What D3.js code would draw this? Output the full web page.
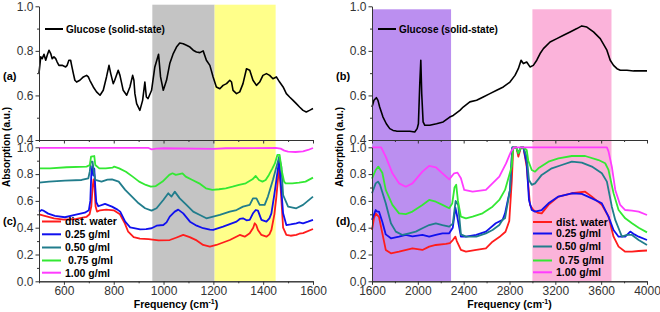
<!DOCTYPE html>
<html>
<head>
<meta charset="utf-8">
<script src="https://cdn.jsdelivr.net/npm/d3@7"></script>
<style>
  body { margin: 0; background: #fff; }
  text { font-family: "Liberation Sans", Arial, sans-serif; }
</style>
</head>
<body>
<div id="chart"></div>
<script>
// glucose solid-state spectra [frequency, absorption]
let glucoseLow = [[500,0.70],[507,0.773],[513,0.765],[520,0.785],[527,0.758],[533,0.780],[540,0.803],[547,0.788],[553,0.765],[560,0.773],[567,0.765],[573,0.750],[580,0.735],[593,0.735],[607,0.728],[613,0.735],[620,0.758],[627,0.758],[631,0.735],[638,0.698],[644,0.668],[651,0.660],[664,0.668],[678,0.683],[691,0.690],[698,0.683],[704,0.668],[718,0.638],[731,0.616],[745,0.601],[758,0.623],[771,0.683],[781,0.735],[788,0.698],[798,0.653],[804,0.668],[818,0.713],[825,0.690],[838,0.623],[852,0.601],[865,0.638],[876,0.690],[881,0.668],[885,0.608],[892,0.563],[905,0.533],[916,0.578],[925,0.660],[931,0.593],[938,0.586],[952,0.623],[965,0.728],[980,0.785],[988,0.683],[999,0.623],[1012,0.668],[1025,0.743],[1039,0.788],[1052,0.817],[1065,0.835],[1079,0.832],[1092,0.825],[1106,0.817],[1119,0.803],[1132,0.795],[1146,0.792],[1159,0.80],[1172,0.758],[1186,0.735],[1199,0.683],[1212,0.638],[1226,0.630],[1239,0.645],[1253,0.653],[1266,0.668],[1273,0.660],[1279,0.623],[1293,0.608],[1306,0.616],[1319,0.653],[1333,0.720],[1346,0.713],[1359,0.668],[1373,0.645],[1386,0.660],[1399,0.690],[1413,0.698],[1426,0.690],[1439,0.675],[1453,0.683],[1466,0.660],[1480,0.638],[1493,0.608],[1506,0.593],[1520,0.578],[1533,0.563],[1546,0.548],[1560,0.533],[1573,0.526],[1586,0.533],[1600,0.541]];

let glucoseHigh = [[1600,0.548],[1617,0.578],[1638,0.590],[1652,0.578],[1667,0.548],[1696,0.503],[1725,0.473],[1755,0.451],[1784,0.443],[1813,0.440],[1871,0.439],[1930,0.439],[1973,0.436],[1994,0.451],[2005,0.473],[2017,0.653],[2026,0.758],[2034,0.608],[2046,0.481],[2061,0.466],[2104,0.466],[2163,0.473],[2221,0.481],[2279,0.503],[2309,0.510],[2367,0.533],[2396,0.548],[2454,0.571],[2513,0.578],[2571,0.593],[2629,0.608],[2688,0.623],[2746,0.638],[2804,0.660],[2848,0.690],[2877,0.720],[2901,0.758],[2921,0.743],[2950,0.750],[2979,0.728],[3008,0.735],[3038,0.758],[3067,0.788],[3096,0.810],[3154,0.840],[3213,0.855],[3271,0.870],[3329,0.885],[3388,0.900],[3431,0.912],[3475,0.907],[3533,0.885],[3592,0.855],[3650,0.803],[3679,0.758],[3708,0.735],[3738,0.720],[3767,0.713],[3825,0.713],[3883,0.710],[3942,0.710],[4000,0.710]];

// solutions, low frequency range (c)
let waterLow = [[500,0.50],[530,0.485],[560,0.47],[600,0.46],[650,0.465],[690,0.48],[703,0.50],[710,0.56],[715,0.70],[719,0.76],[723,0.70],[727,0.56],[733,0.52],[745,0.53],[770,0.535],[800,0.53],[825,0.50],[845,0.43],[858,0.37],[880,0.33],[905,0.318],[940,0.315],[980,0.305],[1025,0.308],[1050,0.325],[1079,0.346],[1105,0.33],[1133,0.305],[1159,0.271],[1186,0.259],[1212,0.271],[1266,0.308],[1306,0.346],[1326,0.333],[1346,0.358],[1360,0.40],[1366,0.433],[1372,0.42],[1379,0.383],[1393,0.346],[1413,0.333],[1425,0.35],[1433,0.383],[1445,0.50],[1453,0.632],[1464,0.856],[1470,0.70],[1480,0.40],[1493,0.346],[1510,0.34],[1533,0.346],[1545,0.355],[1560,0.36],[1600,0.39]];
let c025Low = [[500,0.52],[511,0.532],[520,0.525],[537,0.505],[564,0.488],[604,0.478],[644,0.495],[684,0.512],[700,0.53],[706,0.60],[710,0.80],[714,0.86],[718,0.79],[722,0.84],[726,0.70],[730,0.59],[738,0.56],[765,0.578],[793,0.557],[815,0.535],[826,0.52],[846,0.445],[866,0.403],[906,0.388],[930,0.39],[952,0.396],[972,0.415],[999,0.42],[1012,0.44],[1025,0.483],[1045,0.52],[1059,0.535],[1079,0.507],[1106,0.445],[1133,0.415],[1159,0.396],[1186,0.385],[1199,0.383],[1239,0.408],[1293,0.445],[1306,0.465],[1319,0.47],[1333,0.455],[1346,0.458],[1360,0.51],[1370,0.532],[1379,0.527],[1393,0.458],[1413,0.445],[1425,0.47],[1433,0.507],[1445,0.65],[1453,0.756],[1464,0.905],[1470,0.75],[1480,0.507],[1493,0.42],[1510,0.425],[1533,0.433],[1545,0.44],[1560,0.433],[1580,0.445],[1600,0.458]];
let c050Low = [[500,0.736],[540,0.744],[604,0.751],[671,0.756],[698,0.769],[704,0.82],[708,0.893],[715,0.893],[720,0.82],[726,0.756],[751,0.744],[775,0.758],[793,0.761],[820,0.744],[846,0.682],[873,0.632],[900,0.582],[926,0.545],[952,0.527],[972,0.545],[985,0.575],[999,0.607],[1019,0.657],[1032,0.632],[1045,0.669],[1065,0.619],[1092,0.570],[1119,0.52],[1146,0.495],[1172,0.47],[1199,0.483],[1226,0.495],[1266,0.52],[1293,0.532],[1319,0.557],[1346,0.570],[1359,0.619],[1373,0.619],[1386,0.570],[1406,0.570],[1419,0.632],[1439,0.756],[1457,0.88],[1464,0.93],[1473,0.856],[1480,0.644],[1500,0.557],[1533,0.545],[1560,0.57],[1600,0.632]];
let c075Low = [[500,0.843],[544,0.843],[611,0.851],[691,0.856],[704,0.868],[709,0.93],[722,0.935],[726,0.868],[742,0.843],[768,0.843],[795,0.848],[802,0.856],[822,0.843],[849,0.818],[876,0.781],[902,0.744],[929,0.719],[949,0.706],[969,0.711],[996,0.744],[1023,0.794],[1036,0.806],[1049,0.794],[1063,0.80],[1076,0.806],[1089,0.781],[1116,0.756],[1143,0.731],[1170,0.694],[1196,0.682],[1223,0.687],[1250,0.694],[1277,0.706],[1303,0.719],[1330,0.731],[1357,0.761],[1370,0.786],[1383,0.756],[1397,0.744],[1410,0.756],[1423,0.794],[1437,0.843],[1447,0.88],[1457,0.943],[1466,0.943],[1474,0.831],[1484,0.744],[1490,0.731],[1517,0.731],[1544,0.736],[1570,0.744],[1600,0.774]];
let c100Low = [[500,0.995],[940,0.995],[952,0.985],[970,0.99],[1000,0.993],[1200,0.988],[1250,0.993],[1450,0.995],[1470,0.99],[1485,0.975],[1500,0.968],[1530,0.965],[1560,0.97],[1580,0.98],[1600,0.995]];

// solutions, high frequency range (d)
let waterHigh = [[1600,0.383],[1617,0.47],[1632,0.507],[1650,0.49],[1661,0.48],[1690,0.36],[1720,0.234],[1765,0.209],[1836,0.221],[1953,0.246],[2040,0.234],[2099,0.259],[2157,0.271],[2245,0.279],[2280,0.285],[2305,0.308],[2328,0.333],[2340,0.30],[2376,0.234],[2420,0.221],[2510,0.235],[2594,0.246],[2652,0.296],[2711,0.33],[2765,0.37],[2798,0.45],[2820,0.75],[2833,1.0],[2860,1.0],[2877,0.93],[2900,1.0],[2921,1.0],[2950,0.856],[2979,0.57],[3008,0.532],[3050,0.51],[3081,0.507],[3140,0.57],[3227,0.632],[3344,0.657],[3460,0.669],[3519,0.632],[3606,0.57],[3664,0.483],[3708,0.333],[3752,0.259],[3810,0.221],[3869,0.221],[3927,0.226],[4000,0.23]];
let c025High = [[1600,0.458],[1632,0.532],[1645,0.52],[1661,0.52],[1690,0.445],[1720,0.35],[1765,0.321],[1836,0.333],[1895,0.346],[1953,0.335],[2040,0.346],[2099,0.333],[2157,0.346],[2215,0.358],[2274,0.358],[2305,0.40],[2328,0.55],[2340,0.50],[2376,0.333],[2420,0.333],[2510,0.346],[2594,0.371],[2680,0.433],[2740,0.458],[2761,0.507],[2804,0.68],[2825,1.0],[2860,1.0],[2877,0.955],[2900,1.0],[2921,1.0],[2950,0.88],[2970,0.607],[2994,0.532],[3023,0.52],[3081,0.532],[3140,0.582],[3227,0.632],[3344,0.657],[3431,0.652],[3519,0.619],[3606,0.582],[3664,0.483],[3708,0.383],[3752,0.333],[3810,0.333],[3854,0.371],[3890,0.35],[3927,0.333],[4000,0.308]];
let c050High = [[1600,0.657],[1632,0.731],[1652,0.744],[1670,0.72],[1720,0.582],[1765,0.433],[1808,0.371],[1866,0.346],[1924,0.358],[1982,0.371],[2040,0.396],[2099,0.42],[2157,0.433],[2215,0.42],[2274,0.408],[2305,0.43],[2330,0.60],[2352,0.57],[2376,0.35],[2420,0.333],[2510,0.333],[2594,0.358],[2652,0.383],[2711,0.42],[2740,0.46],[2761,0.47],[2804,0.68],[2825,1.0],[2860,1.0],[2877,0.955],[2900,1.0],[2921,1.0],[2950,0.93],[2970,0.756],[2994,0.72],[3023,0.731],[3081,0.794],[3169,0.843],[3256,0.868],[3344,0.893],[3431,0.885],[3519,0.856],[3606,0.806],[3650,0.744],[3693,0.557],[3723,0.458],[3752,0.396],[3781,0.333],[3825,0.346],[3869,0.346],[3927,0.308],[4000,0.271]];
let c075High = [[1600,0.766],[1632,0.831],[1655,0.856],[1690,0.81],[1720,0.682],[1778,0.570],[1836,0.507],[1895,0.502],[1953,0.520],[2040,0.570],[2099,0.607],[2157,0.594],[2215,0.570],[2274,0.545],[2300,0.58],[2320,0.70],[2335,0.72],[2350,0.60],[2376,0.483],[2420,0.47],[2478,0.483],[2565,0.507],[2652,0.557],[2711,0.607],[2761,0.682],[2819,0.856],[2833,1.0],[2860,1.0],[2877,0.955],[2900,1.0],[2921,1.0],[2950,0.98],[2964,0.90],[2994,0.831],[3023,0.818],[3052,0.843],[3140,0.893],[3227,0.918],[3344,0.935],[3460,0.935],[3577,0.905],[3635,0.881],[3664,0.831],[3708,0.657],[3752,0.532],[3810,0.47],[3869,0.433],[3927,0.40],[4000,0.365]];
let c100High = [[1600,1.0],[1680,1.0],[1720,0.93],[1778,0.806],[1836,0.731],[1895,0.706],[1953,0.731],[2040,0.818],[2099,0.861],[2157,0.851],[2215,0.806],[2274,0.761],[2317,0.806],[2346,0.811],[2376,0.769],[2405,0.682],[2478,0.669],[2594,0.682],[2711,0.781],[2770,0.88],[2813,0.968],[2840,1.0],[3650,1.0],[3664,0.97],[3693,0.856],[3723,0.682],[3766,0.57],[3810,0.532],[3869,0.527],[3927,0.52],[4000,0.495]];

let seriesNames = ["dist. water", "0.25 g/ml", "0.50 g/ml", " 0.75 g/ml", "1.00 g/ml"];
let seriesColors = ["#ff1c1c", "#1010ee", "#217d8c", "#33e833", "#ff3cff"];

// highlighted frequency ranges
let bandsLow = [[955, 1205], [1205, 1450]];
let bandsHigh = [[1600, 2290], [3000, 3690]];

let xTicksLow = [600, 800, 1000, 1200, 1400, 1600];
let xTicksHigh = [1600, 2000, 2400, 2800, 3200, 3600, 4000];

let W = 660, H = 312;

let svg = d3.select("#chart").append("svg")
    .attr("width", W)
    .attr("height", H);

let yTop = d3.scaleLinear().domain([0.4, 1.0]).range([140, 6.3]);
let yBot = d3.scaleLinear().domain([0, 1.0]).range([281.3, 147.3]);

function panel(x0, x1, dom, bands, bandColors, bandTop, glucose, sols, xticks, minorStep, tags) {
    let x = d3.scaleLinear().domain(dom).range([x0, x1]);
    let g = svg.append("g");

    g.selectAll("rect.band")
        .data(bands)
        .enter()
        .append("rect")
        .attr("x", d => x(d[0]))
        .attr("width", d => x(d[1]) - x(d[0]))
        .attr("y", bandTop)
        .attr("height", yBot(0) - bandTop)
        .style("fill", (d, i) => bandColors[i]);

    let lineTop = d3.line().x(d => x(d[0])).y(d => yTop(d[1]));
    let lineBot = d3.line().x(d => x(d[0])).y(d => yBot(d[1]));

    g.append("path")
        .attr("d", lineTop(glucose))
        .style("fill", "none")
        .style("stroke", "#000")
        .style("stroke-width", 1.6)
        .style("stroke-linejoin", "round");

    g.selectAll("path.sol")
        .data(sols)
        .enter()
        .append("path")
        .attr("d", d => lineBot(d))
        .style("fill", "none")
        .style("stroke", (d, i) => seriesColors[i])
        .style("stroke-width", 1.8)
        .style("stroke-linejoin", "round");

    // axes
    let minorX = d3.range(dom[0], dom[1] + 1, minorStep).filter(v => xticks.indexOf(v) < 0);
    axis(g, d3.axisBottom(x).tickValues(xticks).tickFormat(""), 0, yTop(0.4), 3.5);
    axis(g, d3.axisBottom(x).tickValues(minorX).tickFormat(""), 0, yTop(0.4), 2);
    axis(g, d3.axisLeft(yTop).tickValues([0.4, 0.6, 0.8, 1.0]).tickFormat(d3.format(".1f")), x0, 0, 3.5);
    axis(g, d3.axisLeft(yTop).tickValues([0.5, 0.7, 0.9]).tickFormat(""), x0, 0, 2);

    axis(g, d3.axisBottom(x).tickValues(xticks).tickFormat(d3.format("d")), 0, yBot(0), 3.5);
    axis(g, d3.axisBottom(x).tickValues(minorX).tickFormat(""), 0, yBot(0), 2);
    axis(g, d3.axisLeft(yBot).tickValues([0, 0.2, 0.4, 0.6, 0.8, 1.0]).tickFormat(d3.format(".1f")), x0, 0, 3.5);
    axis(g, d3.axisLeft(yBot).tickValues([0.1, 0.3, 0.5, 0.7, 0.9]).tickFormat(""), x0, 0, 2);

    // legends
    g.append("line")
        .attr("x1", x0 + 6).attr("x2", x0 + 24)
        .attr("y1", 29).attr("y2", 29)
        .style("stroke", "#000").style("stroke-width", 2);
    g.append("text")
        .attr("x", x0 + 27).attr("y", 32.5)
        .style("font-size", "10px").style("font-weight", "bold")
        .text("Glucose (solid-state)");

    let lx = tags.legendX;
    let leg = g.append("g").selectAll("g")
        .data(seriesNames)
        .enter()
        .append("g")
        .attr("transform", (d, i) => "translate(" + lx + "," + tags.legendY[i] + ")");
    leg.append("line")
        .attr("x1", 0).attr("x2", 19)
        .style("stroke", (d, i) => seriesColors[i])
        .style("stroke-width", 2);
    leg.append("text")
        .attr("x", 23).attr("y", 3.8)
        .style("font-size", "10.5px").style("font-weight", "bold")
        .style("white-space", "pre")
        .text(d => d);

    g.append("text").attr("x", tags.tagX).attr("y", 80)
        .style("font-size", "11px").style("font-weight", "bold").text(tags.top);
    g.append("text").attr("x", tags.tagX).attr("y", 225)
        .style("font-size", "11px").style("font-weight", "bold").text(tags.bottom);

    g.append("text")
        .attr("transform", "translate(" + (tags.tagX + 7) + ",147) rotate(-90)")
        .attr("text-anchor", "middle")
        .style("font-size", "10px").style("font-weight", "bold")
        .text("Absorption (a.u.)");

    let xl = g.append("text")
        .attr("x", (x0 + x1) / 2).attr("y", 308)
        .attr("text-anchor", "middle")
        .style("font-size", "10.5px").style("font-weight", "bold");
    xl.append("tspan").text("Frequency (cm");
    xl.append("tspan").attr("dy", -4).style("font-size", "7px").text("-1");
    xl.append("tspan").attr("dy", 4).text(")");
}

function axis(g, ax, tx, ty, size) {
    let a = g.append("g")
        .attr("transform", "translate(" + tx + "," + ty + ")")
        .call(ax.tickSize(size).tickSizeOuter(0).tickPadding(2));
    a.select(".domain").style("stroke", "#333");
    a.selectAll(".tick line").style("stroke", "#333");
    a.selectAll("text")
        .style("font-family", "'Liberation Sans', Arial, sans-serif")
        .style("font-size", "12px")
        .style("fill", "#333");
}

panel(39, 313, [500, 1600], bandsLow, ["#c4c4c4", "#ffff8a"], 4.7, glucoseLow,
    [waterLow, c025Low, c050Low, c075Low, c100Low], xTicksLow, 100,
    {top: "(a)", bottom: "(c)", tagX: 3, legendX: 42, legendY: [221.5, 234.3, 247.5, 260.5, 272.7]});

panel(372, 647, [1600, 4000], bandsHigh, ["#bb8ff0", "#fbb3da"], 9.3, glucoseHigh,
    [waterHigh, c025High, c050High, c075High, c100High], xTicksHigh, 200,
    {top: "(b)", bottom: "(d)", tagX: 336, legendX: 533, legendY: [222, 233.5, 246.5, 260.5, 272.3]});
</script>
</body>
</html>
